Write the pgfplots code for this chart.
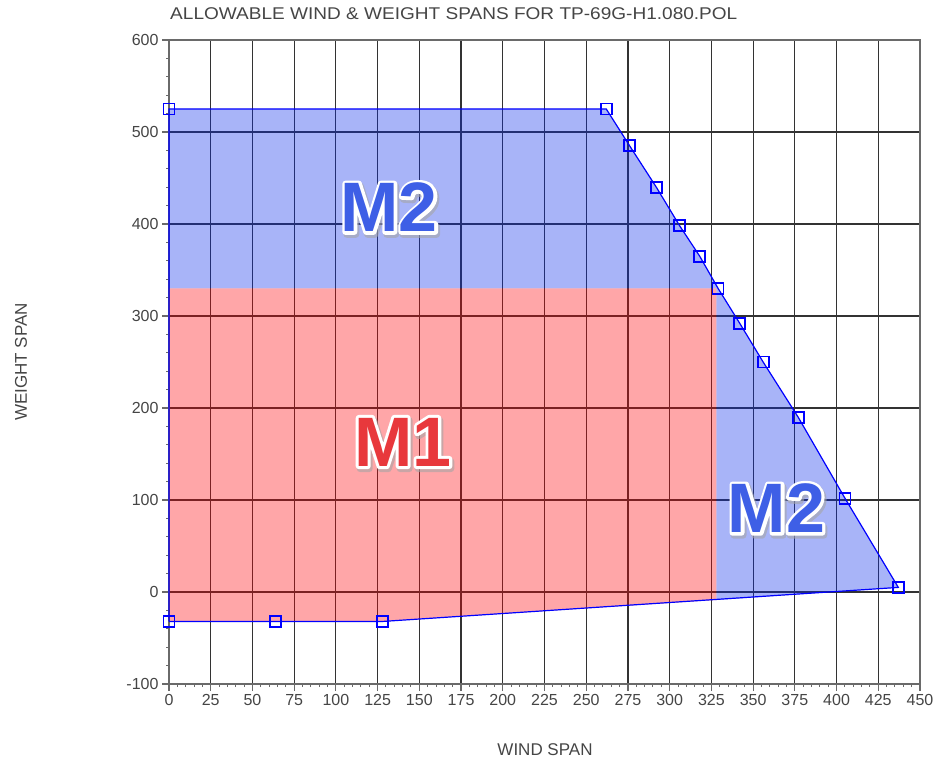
\documentclass[border=0pt]{standalone}
\usepackage{pgfplots}
\pgfplotsset{compat=1.18}
\usepackage{fontspec}
\setmainfont{Liberation Sans}
\definecolor{txtgray}{HTML}{454545}
\definecolor{gridc}{HTML}{333333}
\definecolor{axisc}{HTML}{6A6A6A}
\definecolor{bluefill}{RGB}{6,40,235}
\definecolor{redfill}{RGB}{255,0,6}
\definecolor{mtwo}{HTML}{3E5FE6}
\definecolor{mone}{HTML}{E8383C}
\newcommand{\strk}[2]{\special{pdf:literal direct 2 Tr #1 w 1 j}#2\special{pdf:literal direct 0 Tr 1 w}}
\newcommand{\biglabel}[3]{%
  \node[text=black!35, font=\fontsize{70}{70}\selectfont\bfseries, shift={(1.5pt,-2.5pt)}, opacity=0.6] at (#1) {\strk{7}{#3}};
  \node[text=white, font=\fontsize{70}{70}\selectfont\bfseries] at (#1) {\strk{6}{#3}};
  \node[text=#2, font=\fontsize{70}{70}\selectfont\bfseries] at (#1) {#3};}
\begin{document}
\begin{tikzpicture}
\useasboundingbox (0,0) rectangle (939pt,761pt);
\begin{axis}[
  at={(169pt,77pt)}, anchor=south west,
  scale only axis, width=751pt, height=644pt,
  xmin=0, xmax=450, ymin=-100, ymax=600,
  xtick={0,25,...,450}, ytick={-100,0,...,600},
  minor x tick num=4, minor y tick num=4,
  grid=major, major grid style={gridc, line width=1.15pt},
  axis line style={axisc, line width=1.3pt},
  tick align=outside, tick pos=left,
  major tick length=7pt, minor tick length=3pt,
  major tick style={axisc, line width=1.2pt},
  minor tick style={axisc, line width=1pt},
  ticklabel style={font=\fontsize{16}{16}\selectfont, text=txtgray},
  /pgf/number format/assume math mode=true,
  clip=false,
]
\addplot[draw=none, fill=bluefill, fill opacity=0.35] coordinates {
  (0,330) (0,525) (262,525) (276,485) (292,440) (306,398) (318,365) (329,330)
  (342,292) (356,250) (377,190) (405,102) (437,5) (328,-8.7) (328,330)
} -- cycle;
\addplot[draw=none, fill=redfill, fill opacity=0.35] coordinates {
  (0,-32) (128,-32) (328,-8.7) (328,330) (0,330)
} -- cycle;
\addplot[color=blue, line width=1.2pt, mark=square, mark size=5.5pt,
  mark options={line width=1.8pt, solid}] coordinates {
  (0,-32) (0,525) (262,525) (276,485) (292,440) (306,398) (318,365) (329,330)
  (342,292) (356,250) (377,190) (405,102) (437,5) (128,-32) (64,-32) (0,-32)
};
\coordinate (mA) at (axis cs:132,418);
\coordinate (mB) at (axis cs:140,163);
\coordinate (mC) at (axis cs:364,91);
\end{axis}
\biglabel{mA}{mtwo}{M2}
\biglabel{mB}{mone}{M1}
\biglabel{mC}{mtwo}{M2}
\node[anchor=west, inner sep=0pt, text=txtgray, font=\fontsize{17}{17}\selectfont, xscale=1.12, transform shape] at (170pt,747pt) {ALLOWABLE WIND \& WEIGHT SPANS FOR TP-69G-H1.080.POL};
\node[rotate=90, inner sep=0pt, text=txtgray, font=\fontsize{17}{17}\selectfont] at (21pt,399pt) {WEIGHT SPAN};
\node[inner sep=0pt, text=txtgray, font=\fontsize{17}{17}\selectfont] at (545pt,11pt) {WIND SPAN};
\end{tikzpicture}
\end{document}
